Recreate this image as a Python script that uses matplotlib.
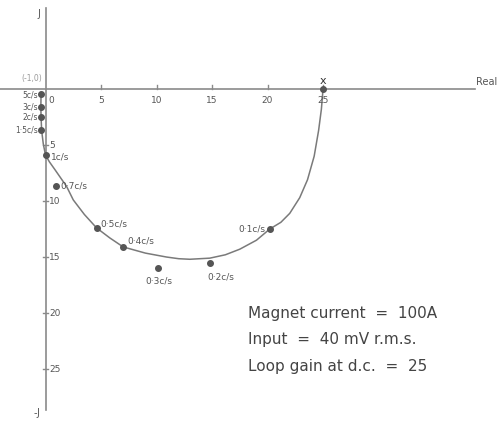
"""
Nyquist locus of the magnet current loop (scanned figure redraw).
"""
import matplotlib.pyplot as plt

# Locus (real, imaginary)
curve_re = [-0.4, -0.42, -0.4, -0.35, -0.2, 0.0, 0.35, 0.85, 1.9, 2.5, 3.5, 4.6,
            5.8, 7.0, 9.0, 10.9, 12.0, 13.0, 14.8, 16.2, 17.5, 19.0, 20.2, 21.2, 22.0,
            22.9, 23.6, 24.2, 24.6, 24.85, 25.0]
curve_im = [-0.3, -1.6, -2.5, -3.7, -4.9, -5.9, -6.5, -7.2, -8.7, -9.9, -11.2, -12.4,
            -13.3, -14.1, -14.65, -15.0, -15.15, -15.2, -15.1, -14.8, -14.3, -13.5, -12.5, -11.9, -11.1,
            -9.7, -8.1, -6.0, -3.7, -1.8, 0.0]

# Frequency points (c/s) and their positions
freq_labels = ["5c/s", "3c/s", "2c/s", "1·5c/s", "1c/s", "0·7c/s", "0·5c/s",
               "0·4c/s", "0·3c/s", "0·2c/s", "0·1c/s"]
freq_re = [-0.4, -0.4, -0.45, -0.4, 0.0, 0.95, 4.6, 7.0, 10.1, 14.8, 20.2]
freq_im = [-0.45, -1.6, -2.5, -3.7, -5.9, -8.7, -12.4, -14.1, -16.0, -15.5, -12.5]

# label offsets in points and horizontal alignment
label_offsets = [(-2, -1), (-2, 0), (-2, 0), (-2, 0), (4, -1), (3, 0),
                 (3, 3), (3, 4), (-9, -9), (-2, -10), (-3, 0)]
label_align = ["right", "right", "right", "right", "left", "left",
               "left", "left", "left", "left", "right"]
label_size = [5.5, 5.5, 5.5, 5.5, 6.5, 6.5, 6.5, 6.5, 6.5, 6.5, 6.5]

dc_re, dc_im = 25.0, 0.0
re_ticks = [0, 5, 10, 15, 20, 25]
im_ticks = [5, 10, 15, 20, 25]

notes = ["Magnet current  =  100A", "Input  =  40 mV r.m.s.", "Loop gain at d.c.  =  25"]

AXIS = "#8a8a8a"
INK = "#555555"

fig = plt.figure(figsize=(4.98, 4.22), dpi=100)
ax = fig.add_axes([0, 0, 1, 1])
ax.set_xlim(-4.1, 40.76)
ax.set_ylim(-29.73, 7.95)
ax.axis("off")

# axes
ax.plot([-4.1, 38.7], [0, 0], color=AXIS, lw=1.2)
ax.plot([0, 0], [7.2, -28.7], color=AXIS, lw=1.2)
for t in re_ticks[1:]:
    ax.plot([t, t], [0, 0.35], color=AXIS, lw=1)
    ax.text(t, -0.6, str(t), ha="center", va="top", fontsize=6.5, color=INK)
ax.text(0.25, -0.6, "0", ha="left", va="top", fontsize=6.5, color=INK)
for t in im_ticks:
    ax.plot([-0.25, 0.25], [-t, -t], color=AXIS, lw=1)
    ax.text(0.35, -t, str(t), ha="left", va="center", fontsize=6.5, color=INK)

ax.text(-0.6, 6.7, "J", ha="center", va="center", fontsize=7, color=INK)
ax.text(-0.8, -28.9, "-J", ha="center", va="center", fontsize=7, color=INK)
ax.text(38.8, 0.6, "Real", ha="left", va="center", fontsize=7, color=INK)
ax.text(-1.2, 0.9, "(-1,0)", ha="center", va="center", fontsize=5.5, color="#999999")

# locus
ax.plot(curve_re, curve_im, color="#7a7a7a", lw=1.1)
ax.scatter(freq_re, freq_im, s=16, color=INK, zorder=3)
ax.scatter([dc_re], [dc_im], s=16, color=INK, zorder=3)
ax.text(dc_re, 0.75, "x", ha="center", va="center", fontsize=8, color="#333333")

for lab, x, y, off, ha, fs in zip(freq_labels, freq_re, freq_im, label_offsets,
                                  label_align, label_size):
    ax.annotate(lab, (x, y), xytext=off, textcoords="offset points",
                ha=ha, va="center", fontsize=fs, color=INK)

for i, line in enumerate(notes):
    ax.text(18.2, -20.0 - 2.4 * i, line, ha="left", va="center",
            fontsize=11, color="#444444")

fig.savefig("out.png", dpi=100)
